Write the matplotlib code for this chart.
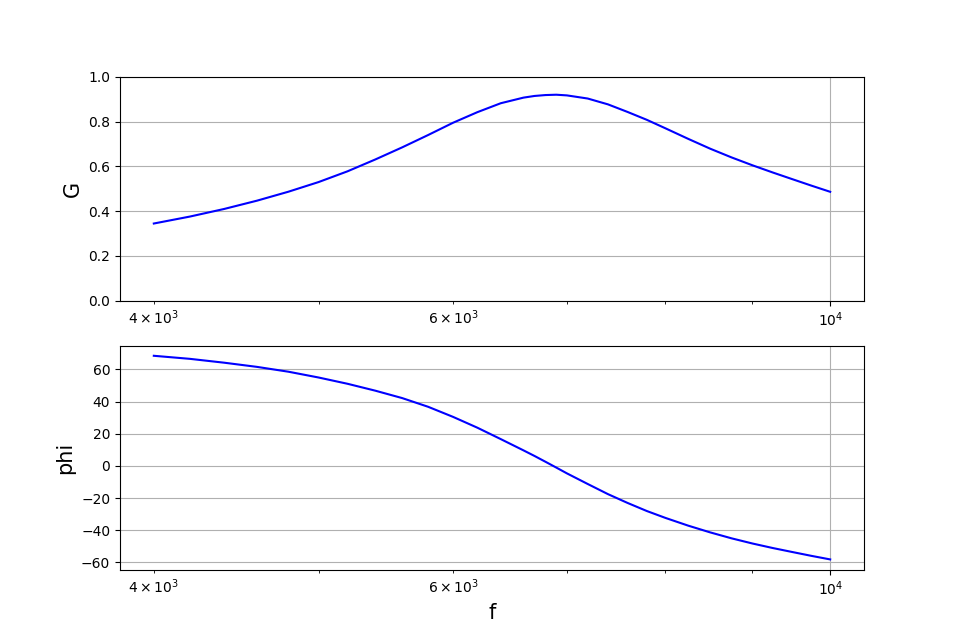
import matplotlib
matplotlib.use("Agg")
import matplotlib.pyplot as plt

freq = [4000, 4200, 4400, 4600, 4800, 5000, 5200, 5400, 5600, 5800, 6000,
        6200, 6400, 6600, 6700, 6800, 6900, 7000, 7200, 7400, 7600, 7800,
        8000, 8250, 8500, 8750, 9000, 9250, 9500, 9750, 10000]
gain = [0.345, 0.376, 0.410, 0.447, 0.487, 0.530, 0.578, 0.631, 0.685, 0.740,
        0.795, 0.842, 0.882, 0.907, 0.9145, 0.9185, 0.920, 0.917, 0.903,
        0.877, 0.843, 0.808, 0.770, 0.723, 0.679, 0.640, 0.605, 0.573, 0.543,
        0.514, 0.4866]
phase = [68.5, 66.6, 64.2, 61.6, 58.6, 55.0, 51.1, 46.8, 42.2, 36.8, 30.5,
         23.8, 16.7, 9.7, 6.2, 2.6, -1.0, -4.6, -11.2, -17.5, -23.0, -28.0,
         -32.3, -37.1, -41.3, -45.0, -48.2, -51.0, -53.5, -55.9, -58.1]

fig, (ax1, ax2) = plt.subplots(2, 1, figsize=(9.6, 6.4), dpi=100)

ax1.semilogx(freq, gain, color='b')
ax1.set_ylim(0, 1.0)
ax1.set_ylabel('G', fontsize=15)
ax1.grid(True)

ax2.semilogx(freq, phase, color='b')
ax2.set_ylabel('phi', fontsize=15)
ax2.set_xlabel('f', fontsize=15)
ax2.grid(True)

fig.savefig('out.png', dpi=100)
